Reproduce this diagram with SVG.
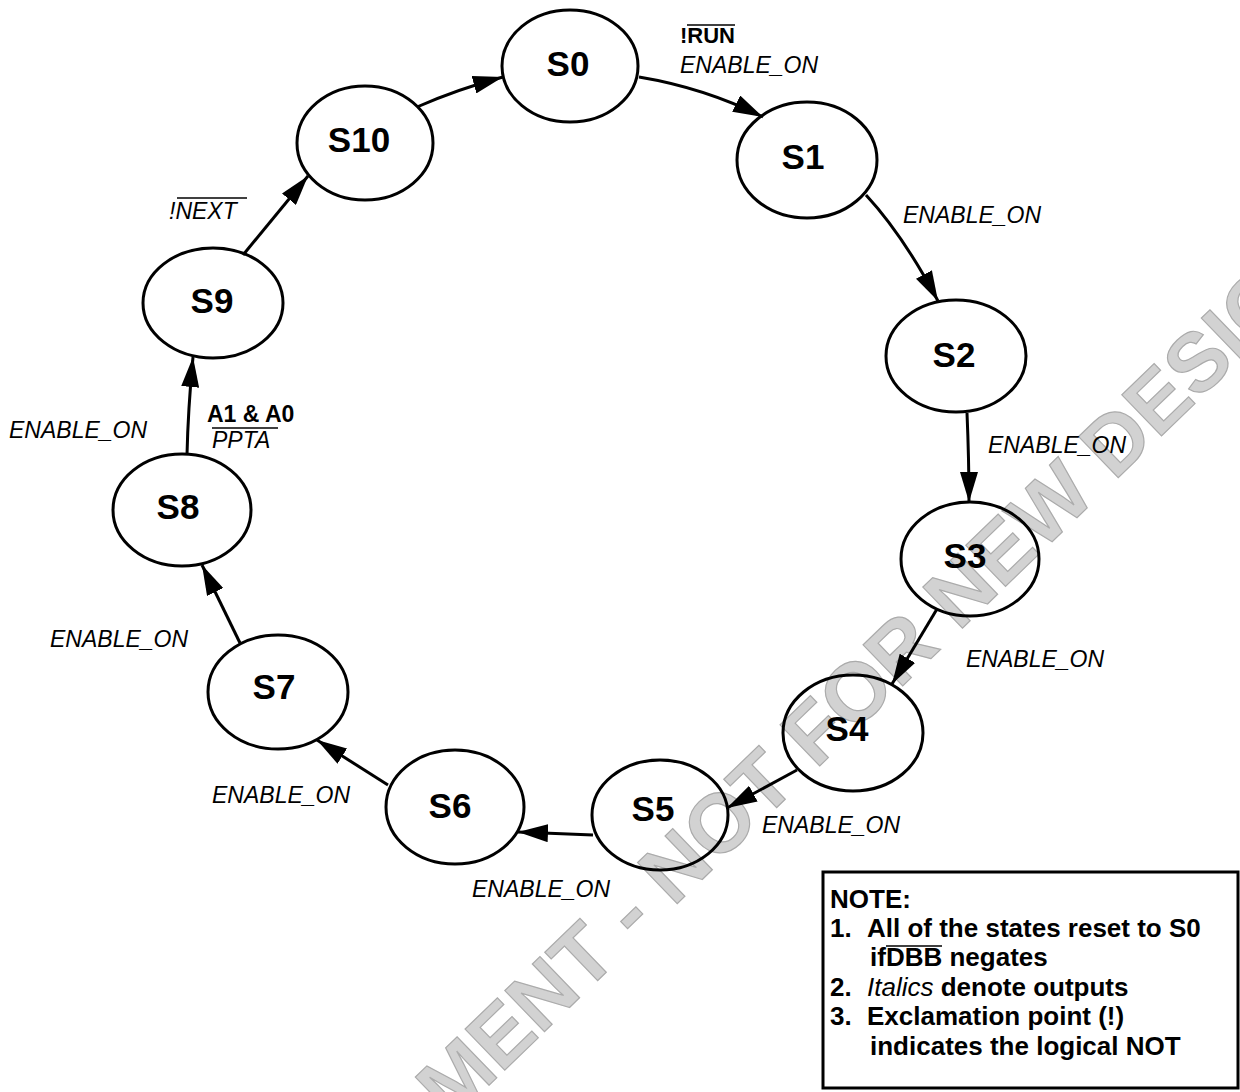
<svg xmlns="http://www.w3.org/2000/svg" width="1240" height="1092" viewBox="0 0 1240 1092">
<style>
.node ellipse{fill:none;stroke:#000;stroke-width:3}
.nl{font-family:"Liberation Sans",Arial,Helvetica,sans-serif;font-weight:bold;font-size:35px;text-anchor:middle;fill:#000}
.el{font-family:"Liberation Sans",Arial,Helvetica,sans-serif;font-style:italic;font-size:23px;fill:#000}
.bl{font-family:"Liberation Sans",Arial,Helvetica,sans-serif;font-weight:bold;fill:#000}
.conn path{fill:none;stroke:#000;stroke-width:3;marker-end:url(#arr)}
.ov{stroke:#000;stroke-width:1.6}
.note text{font-family:"Liberation Sans",Arial,Helvetica,sans-serif;font-weight:bold;font-size:26px;fill:#000}
.wm{font-family:"Liberation Sans",Arial,Helvetica,sans-serif;font-weight:bold;font-size:83px;fill:#d2d2d2;stroke:#ababab;stroke-width:1.2}
</style>
<defs>
<marker id="arr" markerUnits="userSpaceOnUse" markerWidth="30" markerHeight="18" viewBox="0 0 30 18" refX="30" refY="9" orient="auto">
<path d="M0,0 L30,9 L0,18 Z" fill="#000"/>
</marker>
</defs>
<rect width="1240" height="1092" fill="#fff"/>

<g id="watermark">
<text class="wm" transform="translate(451,1122) rotate(-44)">MENT - NOT FOR NEW DESIG</text>
</g>

<g id="connectors" class="conn">
<path d="M417,107 Q458,89 503,77"/>
<path d="M639,77 Q705,88 763,117"/>
<path d="M866,195 Q903,235 938,301"/>
<path d="M967,413 Q969,460 969,502"/>
<path d="M937,609 L892,684"/>
<path d="M797,770 L727,808"/>
<path d="M593,835 L518,832"/>
<path d="M388,785 L317,740"/>
<path d="M240,643 L202,565"/>
<path d="M187,455 Q188,410 193,357"/>
<path d="M243,255 L308,176"/>
</g>

<g id="S0" class="node"><ellipse cx="570" cy="66" rx="68" ry="56"/><text class="nl" x="568" y="76">S0</text></g>
<g id="S1" class="node"><ellipse cx="807" cy="160" rx="70" ry="58"/><text class="nl" x="803" y="169">S1</text></g>
<g id="S2" class="node"><ellipse cx="956" cy="356" rx="70" ry="56"/><text class="nl" x="954" y="367">S2</text></g>
<g id="S3" class="node"><ellipse cx="970" cy="559" rx="69" ry="57"/><text class="nl" x="965" y="568">S3</text></g>
<g id="S4" class="node"><ellipse cx="853" cy="733" rx="70" ry="58"/><text class="nl" x="847" y="741">S4</text></g>
<g id="S5" class="node"><ellipse cx="660" cy="815" rx="68" ry="55"/><text class="nl" x="653" y="821">S5</text></g>
<g id="S6" class="node"><ellipse cx="455" cy="807" rx="69" ry="57"/><text class="nl" x="450" y="818">S6</text></g>
<g id="S7" class="node"><ellipse cx="278" cy="692" rx="70" ry="57"/><text class="nl" x="274" y="699">S7</text></g>
<g id="S8" class="node"><ellipse cx="182" cy="510" rx="69" ry="56"/><text class="nl" x="178" y="519">S8</text></g>
<g id="S9" class="node"><ellipse cx="213" cy="303" rx="70" ry="55"/><text class="nl" x="212" y="313">S9</text></g>
<g id="S10" class="node"><ellipse cx="365" cy="143" rx="68" ry="57"/><text class="nl" x="359" y="152">S10</text></g>

<g id="edge-labels">
<text class="bl" x="680" y="43" font-size="22">!RUN</text>
<line class="ov" x1="687" y1="25" x2="735" y2="25"/>
<text class="el" x="680" y="73">ENABLE_ON</text>
<text class="el" x="903" y="223">ENABLE_ON</text>
<text class="el" x="988" y="453">ENABLE_ON</text>
<text class="el" x="966" y="667">ENABLE_ON</text>
<text class="el" x="762" y="833">ENABLE_ON</text>
<text class="el" x="472" y="897">ENABLE_ON</text>
<text class="el" x="212" y="803">ENABLE_ON</text>
<text class="el" x="50" y="647">ENABLE_ON</text>
<text class="el" x="9" y="438">ENABLE_ON</text>
<text class="bl" x="207" y="422" font-size="23">A1 &amp; A0</text>
<text class="el" x="212" y="448" font-size="24">PPTA</text>
<line class="ov" x1="212" y1="428" x2="278" y2="428"/>
<text class="el" x="169" y="219" font-size="25">!NEXT</text>
<line class="ov" x1="177" y1="198" x2="247" y2="198"/>
</g>

<g id="note" class="note">
<rect x="823" y="872" width="415" height="216" fill="#fff" stroke="#000" stroke-width="3"/>
<text x="830" y="908">NOTE:</text>
<text x="830" y="937">1.</text><text x="867" y="937">All of the states reset to S0</text>
<text x="870" y="966">if<tspan>DBB</tspan> negates</text>
<line class="ov" x1="886" y1="946" x2="942" y2="946" stroke-width="2"/>
<text x="830" y="996">2.</text><text x="867" y="996"><tspan font-style="italic" font-weight="normal">Italics</tspan> denote outputs</text>
<text x="830" y="1025">3.</text><text x="867" y="1025">Exclamation point (!)</text>
<text x="870" y="1055">indicates the logical NOT</text>
</g>
</svg>
